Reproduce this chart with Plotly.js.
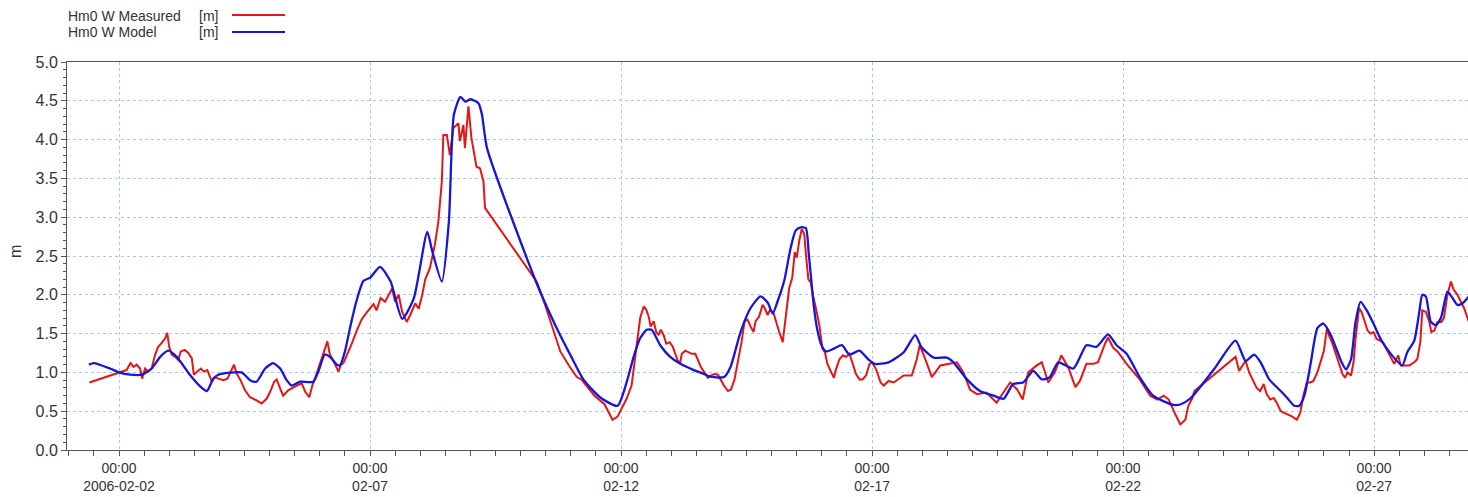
<!DOCTYPE html>
<html><head><meta charset="utf-8">
<script src="https://cdn.plot.ly/plotly-3.0.1.min.js"></script>
<style>html,body{margin:0;padding:0;background:#fff}#chart{width:1468px;height:497px}</style>
</head><body><div id="chart"></div>
<script>
// Time is given as day-of-February 2006 (decimal days)
const measuredDay = [
 1.41, 2.00, 2.15, 2.23, 2.29, 2.35, 2.42, 2.46, 2.52, 2.58,
 2.65, 2.72, 2.78, 2.85, 2.92, 2.96, 3.00, 3.05, 3.12, 3.18,
 3.23, 3.31, 3.38, 3.45, 3.49, 3.56, 3.63, 3.69, 3.76, 3.85,
 3.91, 3.98, 4.08, 4.16, 4.22, 4.29, 4.34, 4.42, 4.51, 4.61,
 4.74, 4.84, 4.94, 5.01, 5.09, 5.14, 5.21, 5.27, 5.37, 5.47,
 5.54, 5.64, 5.71, 5.79, 5.85, 5.94, 6.00, 6.07, 6.15, 6.20,
 6.28, 6.37, 6.42, 6.47, 6.55, 6.63, 6.73, 6.83, 6.93, 7.00,
 7.07, 7.13, 7.21, 7.30, 7.37, 7.44, 7.50, 7.57, 7.64, 7.73,
 7.80, 7.90, 7.97, 8.04, 8.10, 8.19, 8.29, 8.36, 8.43, 8.46,
 8.53, 8.59, 8.66, 8.76, 8.79, 8.86, 8.89, 8.96, 9.02, 9.12,
 9.19, 9.26, 9.29, 10.32, 10.42, 10.59, 10.65, 10.79, 10.98, 11.12,
 11.21, 11.47, 11.67, 11.83, 11.93, 12.11, 12.21, 12.31, 12.38, 12.45,
 12.50, 12.55, 12.59, 12.65, 12.70, 12.75, 12.79, 12.85, 12.90, 12.97,
 13.03, 13.08, 13.13, 13.18, 13.21, 13.28, 13.35, 13.41, 13.48, 13.53,
 13.59, 13.66, 13.73, 13.79, 13.86, 13.93, 13.98, 14.05, 14.13, 14.19,
 14.26, 14.33, 14.40, 14.46, 14.52, 14.58, 14.64, 14.68, 14.75, 14.82,
 14.86, 14.92, 14.97, 15.04, 15.08, 15.15, 15.22, 15.28, 15.35, 15.41,
 15.46, 15.50, 15.55, 15.60, 15.65, 15.68, 15.73, 15.78, 15.82, 15.88,
 15.95, 16.01, 16.06, 16.11, 16.18, 16.24, 16.28, 16.35, 16.42, 16.48,
 16.55, 16.62, 16.68, 16.75, 16.81, 16.88, 16.95, 17.00, 17.08, 17.17,
 17.23, 17.33, 17.43, 17.63, 17.79, 17.89, 17.95, 18.06, 18.19, 18.36,
 18.56, 18.69, 18.82, 18.95, 19.09, 19.28, 19.48, 19.62, 19.75, 19.89,
 20.00, 20.11, 20.28, 20.38, 20.51, 20.64, 20.77, 20.91, 21.05, 21.14,
 21.27, 21.41, 21.50, 21.64, 21.70, 21.80, 21.90, 22.07, 22.33, 22.54,
 22.68, 22.81, 22.91, 23.04, 23.14, 23.24, 23.30, 23.38, 23.42, 24.24,
 24.31, 24.38, 24.44, 24.51, 24.58, 24.66, 24.73, 24.80, 24.86, 24.93,
 25.00, 25.06, 25.14, 25.21, 25.29, 25.37, 25.46, 25.53, 25.59, 25.66,
 25.73, 25.79, 25.87, 25.94, 26.00, 26.06, 26.10, 26.17, 26.24, 26.30,
 26.37, 26.42, 26.47, 26.54, 26.59, 26.63, 26.70, 26.75, 26.81, 26.87,
 26.93, 26.99, 27.05, 27.12, 27.19, 27.25, 27.33, 27.40, 27.48, 27.53,
 27.61, 27.70, 27.80, 27.86, 27.92, 27.96, 28.03, 28.10, 28.14, 28.20,
 28.26, 28.34, 28.39, 28.46, 28.53, 28.58, 28.66, 28.73, 28.79, 28.89
];
const measuredHm0 = [
 0.87, 0.99, 1.03, 1.12, 1.07, 1.10, 1.05, 0.92, 1.05, 1.01,
 1.05, 1.23, 1.33, 1.38, 1.44, 1.51, 1.33, 1.23, 1.20, 1.16,
 1.27, 1.29, 1.25, 1.18, 0.97, 1.01, 1.05, 1.01, 1.03, 0.88,
 0.94, 0.92, 0.90, 0.92, 1.01, 1.10, 0.99, 0.90, 0.77, 0.68,
 0.64, 0.60, 0.66, 0.75, 0.88, 0.91, 0.79, 0.70, 0.77, 0.81,
 0.83, 0.86, 0.75, 0.68, 0.83, 0.99, 1.10, 1.23, 1.40, 1.23,
 1.14, 1.01, 1.10, 1.12, 1.23, 1.36, 1.53, 1.68, 1.77, 1.83,
 1.88, 1.80, 1.96, 1.91, 2.00, 2.08, 1.91, 2.00, 1.78, 1.65,
 1.74, 1.89, 1.82, 2.00, 2.20, 2.34, 2.64, 2.94, 3.46, 4.06,
 4.06, 3.80, 4.15, 4.21, 3.98, 4.19, 3.89, 4.43, 4.02, 3.65,
 3.63, 3.46, 3.12, 2.17, 2.00, 1.66, 1.53, 1.27, 1.07, 0.94,
 0.91, 0.70, 0.59, 0.39, 0.43, 0.66, 0.83, 1.35, 1.70, 1.85,
 1.81, 1.72, 1.59, 1.66, 1.52, 1.48, 1.55, 1.48, 1.37, 1.39,
 1.33, 1.24, 1.15, 1.13, 1.24, 1.28, 1.26, 1.24, 1.24, 1.15,
 1.07, 1.00, 0.93, 0.96, 0.98, 0.97, 0.91, 0.83, 0.76, 0.78,
 0.91, 1.13, 1.39, 1.66, 1.68, 1.59, 1.52, 1.66, 1.72, 1.87,
 1.83, 1.74, 1.81, 1.76, 1.66, 1.52, 1.39, 1.74, 2.09, 2.22,
 2.55, 2.48, 2.70, 2.85, 2.78, 2.54, 2.20, 2.16, 2.00, 1.83,
 1.61, 1.31, 1.26, 1.11, 1.00, 0.93, 1.04, 1.17, 1.22, 1.20,
 1.24, 1.11, 0.98, 0.91, 0.91, 0.96, 1.11, 1.13, 1.04, 0.87,
 0.83, 0.89, 0.87, 0.96, 0.96, 1.17, 1.35, 1.17, 0.94, 1.09,
 1.11, 1.13, 1.00, 0.78, 0.72, 0.74, 0.61, 0.74, 0.87, 0.78,
 0.65, 1.00, 1.09, 1.13, 0.87, 1.00, 1.22, 1.06, 0.81, 0.89,
 1.11, 1.11, 1.13, 1.37, 1.45, 1.32, 1.26, 1.11, 0.91, 0.70,
 0.65, 0.70, 0.65, 0.46, 0.33, 0.39, 0.57, 0.67, 0.76, 1.20,
 1.02, 1.09, 1.15, 1.00, 0.91, 0.80, 0.76, 0.85, 0.72, 0.65,
 0.67, 0.61, 0.50, 0.48, 0.46, 0.43, 0.39, 0.48, 0.70, 0.87,
 0.87, 0.89, 1.00, 1.15, 1.28, 1.57, 1.48, 1.37, 1.24, 1.11,
 0.98, 0.93, 1.00, 0.96, 1.13, 1.43, 1.83, 1.78, 1.65, 1.54,
 1.50, 1.52, 1.43, 1.41, 1.37, 1.30, 1.20, 1.11, 1.22, 1.09,
 1.09, 1.09, 1.13, 1.17, 1.39, 1.80, 1.78, 1.65, 1.52, 1.54,
 1.65, 1.65, 1.70, 2.00, 2.17, 2.07, 2.00, 1.91, 1.83, 1.65
];
const modelDay = [
 1.40, 1.50, 1.82, 2.00, 2.22, 2.45, 2.65, 2.82, 2.98, 3.15,
 3.41, 3.65, 3.75, 3.88, 3.98, 4.44, 4.61, 4.74, 4.91, 5.07,
 5.21, 5.34, 5.44, 5.61, 5.87, 5.97, 6.10, 6.20, 6.34, 6.40,
 6.50, 6.60, 6.73, 6.87, 7.00, 7.20, 7.41, 7.64, 7.87, 8.14,
 8.24, 8.43, 8.57, 8.67, 8.80, 8.90, 9.00, 9.16, 9.23, 9.33,
 10.33, 10.66, 10.92, 11.01, 11.26, 11.60, 11.93, 12.11, 12.25, 12.38,
 12.51, 12.61, 12.78, 12.98, 13.18, 13.45, 13.65, 13.75, 14.05, 14.18,
 14.38, 14.58, 14.78, 14.92, 15.02, 15.12, 15.25, 15.38, 15.48, 15.58,
 15.68, 15.74, 15.84, 15.90, 15.98, 16.08, 16.25, 16.40, 16.55, 16.75,
 16.92, 17.05, 17.33, 17.63, 17.86, 17.99, 18.23, 18.49, 18.62, 18.89,
 19.15, 19.42, 19.62, 19.81, 20.01, 20.21, 20.38, 20.54, 20.71, 21.01,
 21.27, 21.47, 21.70, 21.87, 22.07, 22.33, 22.60, 23.00, 23.15, 23.35,
 23.81, 24.24, 24.44, 24.61, 24.74, 24.91, 25.14, 25.27, 25.41, 25.51,
 25.61, 25.74, 25.87, 25.99, 26.14, 26.34, 26.44, 26.54, 26.63, 26.73,
 26.87, 27.00, 27.13, 27.33, 27.56, 27.66, 27.80, 27.90, 27.96, 28.03,
 28.13, 28.23, 28.33, 28.46, 28.56, 28.66, 28.76, 28.89
];
const modelHm0 = [
 1.10, 1.12, 1.05, 1.00, 0.97, 0.97, 1.05, 1.20, 1.28, 1.20,
 0.97, 0.80, 0.76, 0.92, 0.97, 1.00, 0.90, 0.88, 1.05, 1.12,
 1.05, 0.90, 0.83, 0.88, 0.88, 1.01, 1.23, 1.20, 1.10, 1.09,
 1.27, 1.57, 1.92, 2.18, 2.22, 2.36, 2.17, 1.69, 1.95, 2.81,
 2.56, 2.17, 2.94, 4.32, 4.55, 4.49, 4.52, 4.47, 4.32, 3.89,
 2.13, 1.65, 1.31, 1.20, 0.90, 0.67, 0.57, 0.87, 1.20, 1.44,
 1.55, 1.55, 1.35, 1.20, 1.11, 1.03, 0.98, 0.95, 0.94, 1.07,
 1.52, 1.83, 1.98, 1.90, 1.76, 1.92, 2.18, 2.61, 2.83, 2.87,
 2.86, 2.52, 1.85, 1.58, 1.37, 1.27, 1.31, 1.35, 1.23, 1.28,
 1.17, 1.11, 1.13, 1.26, 1.48, 1.32, 1.19, 1.19, 1.13, 0.91,
 0.76, 0.70, 0.66, 0.85, 0.87, 1.02, 0.91, 0.94, 1.13, 1.05,
 1.35, 1.33, 1.49, 1.35, 1.24, 0.94, 0.70, 0.58, 0.59, 0.67,
 1.04, 1.41, 1.15, 1.23, 1.13, 0.91, 0.76, 0.67, 0.57, 0.57,
 0.70, 1.13, 1.57, 1.63, 1.48, 1.15, 1.04, 1.17, 1.65, 1.91,
 1.78, 1.61, 1.43, 1.24, 1.09, 1.26, 1.41, 1.78, 2.00, 1.98,
 1.65, 1.61, 1.70, 2.04, 1.96, 1.87, 1.89, 1.98
];
const tickDays = [2, 7, 12, 17, 22, 27];
const tickLabels = ['00:00<br>2006-02-02', '00:00<br>02-07', '00:00<br>02-12', '00:00<br>02-17', '00:00<br>02-22', '00:00<br>02-27'];
const seriesNames = ['Hm0 W Measured', 'Hm0 W Model'];
const unitLabel = '[m]';
const yTitle = 'm';

function toDate(d) {
  const ms = Date.UTC(2006, 1, 1) + (d - 1) * 86400000;
  return new Date(ms).toISOString().replace('T', ' ').slice(0, 19);
}

const RED = 'rgb(228,22,22)';
const BLUE = 'rgb(22,22,218)';
const GRID = 'rgb(165,200,235)';
const AX = '#555';
const W = 1468, H = 497, L = 67, T = 62, B = 47;
const pw = W - L, ph = H - T - B;
const px = x => (x - L) / pw;
const py = y => (H - B - y) / ph;

const traces = [
  {x: measuredDay.map(toDate), y: measuredHm0, type: 'scatter', mode: 'lines', name: seriesNames[0],
   line: {color: RED, width: 2}},
  {x: modelDay.map(toDate), y: modelHm0, type: 'scatter', mode: 'lines', name: seriesNames[1],
   line: {color: BLUE, width: 2.3, shape: 'spline', smoothing: 0.6}}
];

const legFont = {family: 'Liberation Sans, Arial, sans-serif', size: 14, color: '#333'};
const layout = {
  width: W, height: H,
  margin: {l: L, r: 0, t: T, b: B, pad: 0},
  paper_bgcolor: '#fff', plot_bgcolor: '#fff',
  showlegend: false,
  font: {family: 'Liberation Sans, Arial, sans-serif', size: 14, color: '#333'},
  xaxis: {
    type: 'date', range: [toDate(0.964), toDate(28.87)],
    tickmode: 'array', tickvals: tickDays.map(toDate), ticktext: tickLabels,
    ticks: 'outside', ticklen: 5, tickcolor: AX, tickwidth: 1,
    showline: true, linecolor: AX, linewidth: 1, mirror: true,
    showgrid: true, gridcolor: GRID, griddash: 'dot', gridwidth: 1,
    zeroline: false, tickfont: {size: 14, color: '#333'},
    minor: {tickmode: 'linear', tick0: toDate(2), dtick: 43200000, ticks: 'outside', ticklen: 5, tickcolor: AX, showgrid: false}
  },
  yaxis: {
    range: [0, 5], tickmode: 'linear', tick0: 0, dtick: 0.5, tickformat: '.1f',
    ticks: 'outside', ticklen: 5, tickcolor: AX,
    showline: true, linecolor: AX, linewidth: 1,
    showgrid: true, gridcolor: GRID, griddash: 'dot', gridwidth: 1,
    zeroline: false, tickfont: {size: 16, color: '#333'},
    minor: {tickmode: 'linear', tick0: 0, dtick: 0.1, ticks: 'outside', ticklen: 3, tickcolor: AX, showgrid: false}
  },
  annotations: [
    {xref: 'paper', yref: 'paper', x: px(66), y: py(16), xanchor: 'left', yanchor: 'middle', text: seriesNames[0], showarrow: false, font: legFont},
    {xref: 'paper', yref: 'paper', x: px(220), y: py(16), xanchor: 'right', yanchor: 'middle', text: unitLabel, showarrow: false, font: legFont},
    {xref: 'paper', yref: 'paper', x: px(66), y: py(32), xanchor: 'left', yanchor: 'middle', text: seriesNames[1], showarrow: false, font: legFont},
    {xref: 'paper', yref: 'paper', x: px(220), y: py(32), xanchor: 'right', yanchor: 'middle', text: unitLabel, showarrow: false, font: legFont},
    {xref: 'paper', yref: 'paper', x: px(15), y: py(252), xanchor: 'center', yanchor: 'middle', text: yTitle, textangle: -90, showarrow: false, font: {size: 16, color: '#333'}}
  ],
  shapes: [
    {type: 'line', xref: 'paper', yref: 'paper', x0: px(232), x1: px(285), y0: py(15), y1: py(15), line: {color: RED, width: 2}},
    {type: 'line', xref: 'paper', yref: 'paper', x0: px(232), x1: px(285), y0: py(32), y1: py(32), line: {color: BLUE, width: 2}}
  ]
};

Plotly.newPlot('chart', traces, layout, {displayModeBar: false, staticPlot: true});
</script>
</body></html>
